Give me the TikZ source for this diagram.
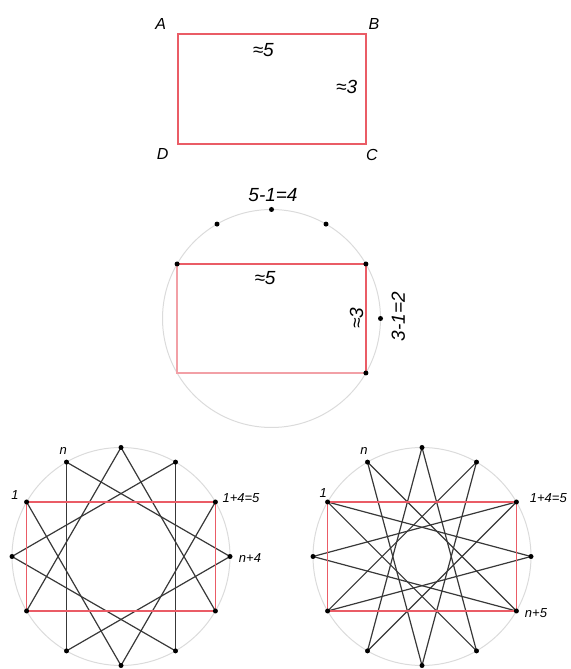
\documentclass[tikz,border=0pt]{standalone}
\usepackage{fontspec}
\setmainfont{Liberation Sans}
\usetikzlibrary{positioning,calc}
\definecolor{rectred}{RGB}{234,92,102}
\definecolor{rectpink}{RGB}{242,160,166}

\begin{document}
\begin{tikzpicture}[x=1pt,y=1pt,
  edge/.style={line width=1.2pt,black!78},
  side/.style={line width=1.6pt,rectred},
  paleside/.style={line width=1.4pt,rectpink},
  rim/.style={line width=1pt,black!14},
  lbl/.style={font=\itshape\fontsize{19}{19}\selectfont},
  caps/.style={font=\itshape\fontsize{16}{16}\selectfont},
  sml/.style={font=\itshape\fontsize{13}{13}\selectfont}]
\useasboundingbox (0,0) rectangle (570,669);
% rectangle ABCD
\coordinate (A) at (177.7,634.7);
\coordinate (C) at (366,525);
\coordinate (B) at (C|-A);
\coordinate (D) at (A|-C);
\draw[side] (A) -- (B) -- (C) -- (D) -- cycle;
\node[caps] (labA) at ($(A)+(-17,10)$) {A};
\node[caps] (labB) at ($(B)+(8,10)$) {B};
\node[caps] (labC) at ($(C)+(6,-11)$) {C};
\node[caps] (labD) at ($(D)+(-15,-10)$) {D};
\node[lbl] (topw) at (263.3,619) {≈5};
\node[lbl] (toph) at (346.7,581.7) {≈3};
% rectangle in its circle
\coordinate (MC) at (271.5,350.5);
\foreach \i in {0,...,11}
  \coordinate (M\i) at ($(MC)+(\i*30:109)$);
\draw[rim] (MC) circle (109);
\draw[paleside] (M5) -- (M7) -- (M11);
\draw[side] (M11) -- (M1) -- (M5);
\foreach \i in {0,1,2,3,4,5,11}
  \fill (M\i) circle (2.5);
\node[lbl] (gapw) at (273,474) {5-1=4};
\node[lbl] (midw) at (265,391) {≈5};
\node[lbl,rotate=90] (midh) at (356.7,351) {≈3};
\node[lbl,rotate=90] (gaph) at (398.3,352.3) {3-1=2};
% stars {12/4} and {12/5}
\coordinate (LC) at (121,112.5);
\coordinate (RC) at (422,112.5);
\foreach \i in {0,...,11}{
  \coordinate (L\i) at ($(LC)+(\i*30:109)$);
  \coordinate (R\i) at ($(RC)+(\i*30:109)$);
}
\draw[rim] (LC) circle (109);
\draw[rim] (RC) circle (109);
\foreach \i in {0,...,11}{
  \pgfmathtruncatemacro\j{mod(\i+4,12)}
  \pgfmathtruncatemacro\k{mod(\i+5,12)}
  \draw[edge] (L\i) -- (L\j);
  \draw[edge] (R\i) -- (R\k);
}
\draw[side] (L1) -- (L5) -- (L7) -- (L11) -- cycle;
\draw[side] (R1) -- (R5) -- (R7) -- (R11) -- cycle;
\foreach \i in {0,...,11}{
  \fill (L\i) circle (2.5);
  \fill (R\i) circle (2.5);
}
\node[sml] (ln) at (63.3,218.3) {n};
\node[sml] (lone) at (15,174) {1};
\node[sml] (lfive) at (241,171.3) {1+4=5};
\node[sml] (lfour) at (250,111.3) {n+4};
\node[sml] (rn) at (364,218.3) {n};
\node[sml] (rone) at (323.3,175.7) {1};
\node[sml] (rfive) at (548.3,171.3) {1+4=5};
\node[sml] (rfour) at (536,55.7) {n+5};
\end{tikzpicture}
\end{document}
